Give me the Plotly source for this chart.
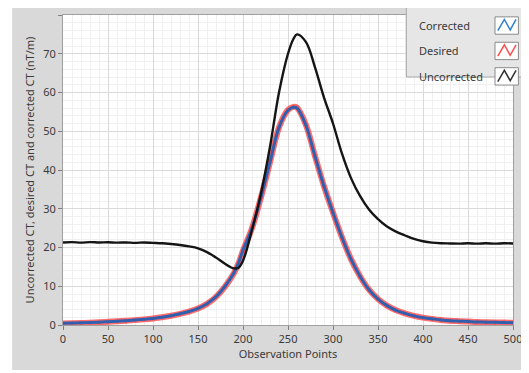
import plotly.graph_objects as go

obs_points = [0, 10, 20, 30, 40, 50, 60, 70, 80, 90, 100, 110, 120, 130, 140, 150,
              160, 170, 180, 190, 195, 200, 210, 220, 230, 240, 250, 256, 260, 270,
              280, 290, 300, 310, 320, 330, 340, 350, 360, 370, 380, 390, 400, 410,
              420, 430, 440, 450, 460, 470, 480, 490, 500]

corrected_ct = [0.45, 0.5, 0.55, 0.62, 0.72, 0.85, 0.98, 1.12, 1.28, 1.48, 1.7, 2.0, 2.4,
                2.9, 3.5, 4.3, 5.5, 7.3, 10.0, 13.5, 16.0, 19.3, 25.0, 33.0, 42.0, 51.0,
                55.4, 56.2, 56.0, 51.5, 43.5, 35.8, 29.0, 22.6, 17.0, 12.6, 9.1, 6.7, 5.0,
                3.8, 3.0, 2.35, 1.9, 1.6, 1.32, 1.12, 1.0, 0.9, 0.8, 0.74, 0.68, 0.64, 0.6]

desired_ct = [0.4, 0.45, 0.52, 0.6, 0.7, 0.82, 0.95, 1.1, 1.26, 1.45, 1.68, 1.98, 2.38,
              2.88, 3.48, 4.25, 5.45, 7.25, 9.9, 13.4, 15.9, 19.2, 25.0, 33.0, 42.0, 51.0,
              55.5, 56.3, 56.1, 51.6, 43.6, 35.8, 29.0, 22.6, 17.0, 12.6, 9.1, 6.7, 5.0,
              3.8, 3.0, 2.35, 1.9, 1.58, 1.3, 1.1, 0.98, 0.88, 0.78, 0.72, 0.66, 0.62, 0.58]

uncorrected_ct = [21.3, 21.4, 21.25, 21.4, 21.3, 21.35, 21.25, 21.3, 21.2, 21.3, 21.2, 21.1,
                  20.9, 20.65, 20.3, 19.8, 18.8, 17.4, 15.8, 14.6, 14.8, 16.6, 24.5, 34.0,
                  46.0, 60.0, 70.0, 73.8, 75.0, 73.0, 66.5, 58.7, 52.0, 44.2, 37.9, 33.3,
                  29.8, 27.3, 25.4, 24.1, 23.1, 22.2, 21.6, 21.25, 21.1, 21.05, 21.0, 21.1,
                  21.0, 21.1, 21.0, 21.1, 21.05]

series_names = ["Corrected", "Desired", "Uncorrected"]
x_ticks = [0, 50, 100, 150, 200, 250, 300, 350, 400, 450, 500]
y_ticks = [0, 10, 20, 30, 40, 50, 60, 70, 80]

FONT = "Noto Sans, Open Sans, sans-serif"
TXT = "#3a3a3a"
PANEL = "#d9d9d9"

fig = go.Figure()
fig.add_trace(go.Scatter(x=obs_points, y=desired_ct, name="Desired", mode="lines+markers",
                         line=dict(color="rgba(255,60,60,0.75)", width=6, shape="spline"),
                         marker=dict(size=4, color="rgba(255,60,60,0.6)"),
                         showlegend=False))
fig.add_trace(go.Scatter(x=obs_points, y=corrected_ct, name="Corrected", mode="lines",
                         line=dict(color="#2f5fae", width=3, shape="spline"),
                         showlegend=False))
fig.add_trace(go.Scatter(x=obs_points, y=uncorrected_ct, name="Uncorrected", mode="lines",
                         line=dict(color="#151515", width=2.4, shape="spline"),
                         showlegend=False))

# white strips around the grey panel (left and bottom)
fig.add_shape(type="rect", xref="paper", yref="paper", x0=-0.2, x1=-0.113, y0=-0.3, y1=1.2,
              fillcolor="white", line=dict(width=0), layer="below")
fig.add_shape(type="rect", xref="paper", yref="paper", x0=-0.2, x1=1.2, y0=-0.3, y1=-0.145,
              fillcolor="white", line=dict(width=0), layer="below")

# Custom legend (labels left, icon right)
lg_x0, lg_x1 = 0.763, 1.04
fig.add_shape(type="rect", xref="paper", yref="paper", x0=lg_x0, x1=lg_x1, y0=0.80, y1=1.033,
              fillcolor="#e6e6e6", line=dict(color="#a8a8a8", width=1), layer="above")
icon_colors = ["#2f7fd0", "#ff4d4d", "#333333"]
for name, col, yc in zip(series_names, icon_colors, [0.966, 0.884, 0.802 + 0.0]):
    fig.add_annotation(xref="paper", yref="paper", x=0.786, y=yc, text=name,
                       showarrow=False, xanchor="left", yanchor="middle",
                       font=dict(family=FONT, size=11, color=TXT))
    bx0, bx1 = 0.96, 1.012
    by0, by1 = yc - 0.028, yc + 0.028
    fig.add_shape(type="rect", xref="paper", yref="paper", x0=bx0, x1=bx1, y0=by0,
                  y1=by1, fillcolor="white", line=dict(color="#8a8a8a", width=1), layer="above")
    w = bx1 - bx0
    h = by1 - by0
    path = (f"M {bx0 + 0.12 * w} {by0 + 0.2 * h} L {bx0 + 0.4 * w} {by0 + 0.85 * h} "
            f"L {bx0 + 0.65 * w} {by0 + 0.25 * h} L {bx0 + 0.9 * w} {by0 + 0.85 * h}")
    fig.add_shape(type="path", xref="paper", yref="paper", path=path,
                  line=dict(color=col, width=1.5), layer="above")

fig.update_layout(
    width=521, height=365,
    margin=dict(l=55, r=16, t=7, b=48),
    paper_bgcolor=PANEL,
    plot_bgcolor="white",
    font=dict(family=FONT, size=11, color=TXT),
    showlegend=False,
)
fig.update_xaxes(range=[0, 500], tickvals=x_ticks, ticks="outside", ticklen=4,
                 tickcolor="#808080", showline=True, linecolor="#a0a0a0", mirror=True,
                 showgrid=True, gridcolor="#dadada", gridwidth=1, zeroline=False,
                 minor=dict(dtick=10, showgrid=True, gridcolor="#f0f0f0"),
                 tickfont=dict(size=11, color=TXT),
                 title=dict(text="Observation Points", font=dict(size=11, color=TXT), standoff=4))
fig.update_yaxes(range=[0, 80], tickvals=y_ticks, ticks="outside", ticklen=4,
                 tickcolor="#808080", showline=True, linecolor="#a0a0a0", mirror=True,
                 showgrid=True, gridcolor="#dadada", gridwidth=1, zeroline=False,
                 minor=dict(dtick=2, showgrid=True, gridcolor="#f0f0f0"),
                 tickfont=dict(size=11, color=TXT),
                 title=dict(text="Uncorrected CT, desired CT and corrected CT (nT/m)",
                            font=dict(size=11, color=TXT), standoff=6))

fig.write_html("out.html")
